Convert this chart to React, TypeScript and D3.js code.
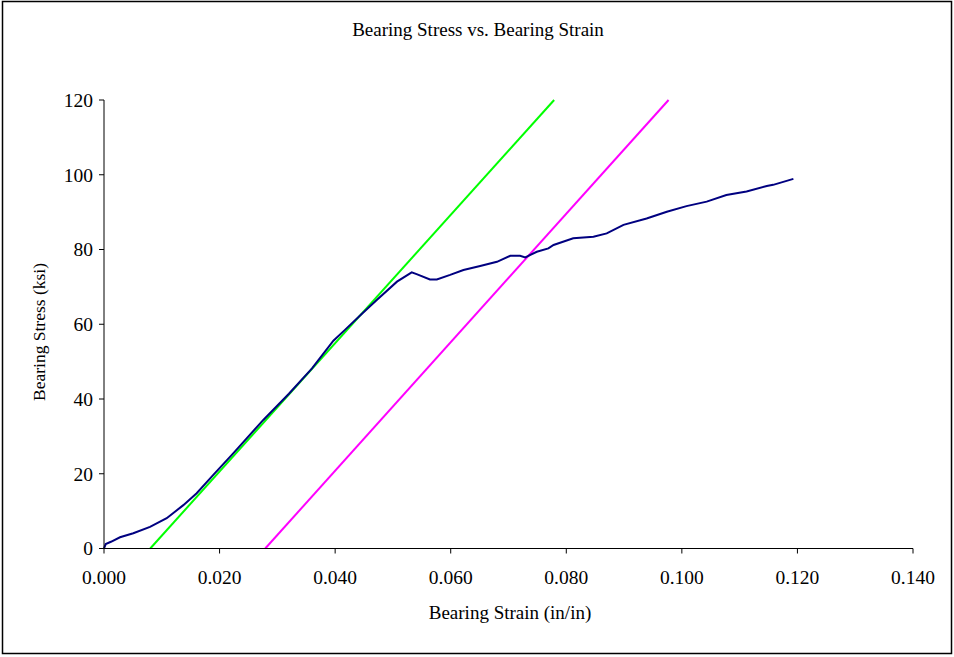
import React from "react";
import * as d3 from "d3";

// Measured bearing response: [strain (in/in), stress (ksi)]
const bearingStrain = [
  0.0, 0.0003, 0.0012, 0.00277, 0.00507, 0.00796, 0.01085, 0.01373, 0.01604, 0.01892,
  0.0224, 0.02757, 0.032, 0.036, 0.0397, 0.0417, 0.0445, 0.0472, 0.0507, 0.05325,
  0.0541, 0.0564, 0.0576, 0.0599, 0.0622, 0.0651, 0.068, 0.0703, 0.072, 0.0729,
  0.0749, 0.0769, 0.0778, 0.0812, 0.0847, 0.087, 0.0899, 0.0939, 0.0974, 0.1008,
  0.1043, 0.1077, 0.1112, 0.1147, 0.1158, 0.1193,
];
const bearingStress = [
  0.0, 1.2, 1.8, 3.0, 4.07, 5.8, 8.1, 11.6, 14.8, 19.7,
  25.5, 34.4, 41.4, 48.2, 55.6, 58.5, 62.6, 66.5, 71.4, 73.9,
  73.4, 72.0, 72.0, 73.2, 74.5, 75.6, 76.7, 78.3, 78.3, 77.9,
  79.4, 80.3, 81.2, 83.0, 83.4, 84.3, 86.6, 88.3, 90.1, 91.6,
  92.8, 94.6, 95.5, 97.0, 97.3, 98.9,
];

// Offset lines parallel to the elastic slope
const offsetGreenStrain = [0.008, 0.0779];
const offsetGreenStress = [0, 120];
const offsetMagentaStrain = [0.0279, 0.0977];
const offsetMagentaStress = [0, 120];

const xTicks = [0, 0.02, 0.04, 0.06, 0.08, 0.1, 0.12, 0.14];
const yTicks = [0, 20, 40, 60, 80, 100, 120];

const W = 954;
const H = 657;
const left = 104;
const right = 913;
const top = 100;
const bottom = 548.5;
const font = "'Liberation Serif', 'Times New Roman', serif";

export default function App() {
  const x = d3.scaleLinear().domain([0, 0.14]).range([left, right]);
  const y = d3.scaleLinear().domain([0, 120]).range([bottom, top]);

  const line = d3
    .line<[number, number]>()
    .x((d) => x(d[0]))
    .y((d) => y(d[1]));

  const zip = (a: number[], b: number[]) => a.map((v, i) => [v, b[i]] as [number, number]);

  const series = [
    { pts: zip(offsetGreenStrain, offsetGreenStress), color: "#00ff00" },
    { pts: zip(offsetMagentaStrain, offsetMagentaStress), color: "#ff00ff" },
    { pts: zip(bearingStrain, bearingStress), color: "#000080" },
  ];

  return (
    <svg
      width={W}
      height={H}
      style={{ position: "absolute", left: 0, top: 0, background: "#fff" }}
      fontFamily={font}
    >
      <rect x={2.5} y={1.5} width={949} height={652} fill="#fff" stroke="#000" strokeWidth={1.5} />
      <text x={478} y={36} textAnchor="middle" fontSize={19}>
        Bearing Stress vs. Bearing Strain
      </text>

      {series.map((s, i) => (
        <path key={i} d={line(s.pts) ?? ""} fill="none" stroke={s.color} strokeWidth={2} />
      ))}

      {/* axes */}
      <line x1={left} x2={left} y1={top} y2={bottom} stroke="#000" />
      <line x1={left} x2={right} y1={bottom} y2={bottom} stroke="#000" />
      {yTicks.map((t) => (
        <g key={t}>
          <line x1={left - 5} x2={left} y1={y(t)} y2={y(t)} stroke="#000" />
          <text x={93} y={y(t)} dy="0.35em" textAnchor="end" fontSize={19.5}>
            {t}
          </text>
        </g>
      ))}
      {xTicks.map((t) => (
        <g key={t}>
          <line x1={x(t)} x2={x(t)} y1={bottom} y2={bottom + 5} stroke="#000" />
          <text x={x(t)} y={577} dy="0.35em" textAnchor="middle" fontSize={19.5}>
            {t.toFixed(3)}
          </text>
        </g>
      ))}

      <text x={510} y={619} textAnchor="middle" fontSize={19}>
        Bearing Strain (in/in)
      </text>
      <text
        transform={`translate(45,332) rotate(-90)`}
        textAnchor="middle"
        fontSize={17.5}
      >
        Bearing Stress (ksi)
      </text>
    </svg>
  );
}
